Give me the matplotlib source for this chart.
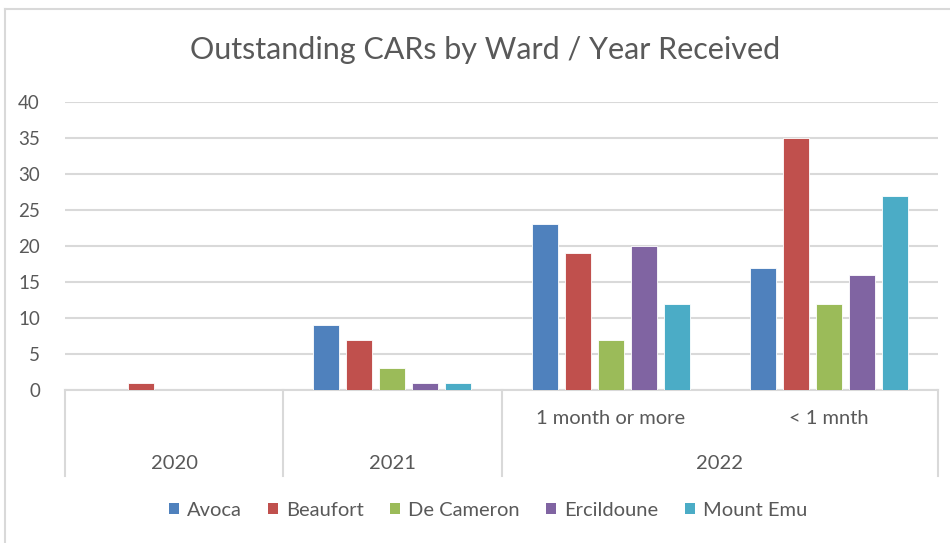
import numpy as np
import matplotlib.pyplot as plt
from matplotlib.patches import Patch

plt.rcParams['font.family'] = ['Lato', 'DejaVu Sans']

# data
wards = ['Avoca', 'Beaufort', 'De Cameron', 'Ercildoune', 'Mount Emu']
inner_labels = ['', '', '1 month or more', '< 1 mnth']
outer_labels = ['2020', '2021', '2022']
outer_span = [(0, 0), (1, 1), (2, 3)]   # categories covered by each year
avoca = [0, 9, 23, 17]
beaufort = [1, 7, 19, 35]
de_cameron = [0, 3, 7, 12]
ercildoune = [0, 1, 20, 16]
mount_emu = [0, 1, 12, 27]
colors = ['#4F81BD', '#C0504D', '#9BBB59', '#8064A2', '#4BACC6']

series = [avoca, beaufort, de_cameron, ercildoune, mount_emu]
x = np.arange(len(inner_labels))
pitch = 0.151
width = 0.119

fig = plt.figure(figsize=(9.5, 5.43), dpi=100)
ax = fig.add_axes([65/950, 153/543, 873/950, 288/543])

for i, (vals, c) in enumerate(zip(series, colors)):
    off = (i - 2) * pitch
    ax.bar(x + off, vals, width, color=c, edgecolor='white', linewidth=0.6, zorder=3)

ax.set_xlim(-0.5, len(x) - 0.5)
ax.set_ylim(0, 40)
ax.set_yticks(range(0, 41, 5))
ax.yaxis.grid(True, color='#d9d9d9', linewidth=1.5, zorder=0)
ax.tick_params(axis='y', length=0, pad=18, labelsize=13.5, labelcolor='#595959')
ax.set_xticks([])
for s in ['top', 'right', 'left']:
    ax.spines[s].set_visible(False)
ax.spines['bottom'].set_color('#d9d9d9')
ax.spines['bottom'].set_linewidth(1.5)

trans = ax.get_xaxis_transform()
# multi-level category axis
for xi, lab in zip(x, inner_labels):
    if lab:
        ax.text(xi, -0.1, lab, transform=trans, ha='center', va='center',
                fontsize=14.5, color='#595959')
bounds = [-0.5]
for lab, (a, b) in zip(outer_labels, outer_span):
    ax.text((a + b) / 2, -0.255, lab, transform=trans, ha='center', va='center',
            fontsize=14.5, color='#595959')
    bounds.append(b + 0.5)
for bx in bounds:
    ax.plot([bx, bx], [0, -0.298], transform=trans, color='#d9d9d9',
            linewidth=1.5, clip_on=False)

fig.text(485/950, 1 - 50/543, 'Outstanding CARs by Ward / Year Received',
         ha='center', va='center', fontsize=22, color='#595959')

handles = [Patch(facecolor=c, label=w) for w, c in zip(wards, colors)]
fig.legend(handles=handles, loc='center', bbox_to_anchor=(488/950, 1 - 510/543),
           ncol=5, frameon=False, fontsize=14.5, labelcolor='#595959',
           handlelength=0.5, handleheight=0.5, handletextpad=0.4, columnspacing=1.3)

# chart border
fig.add_artist(plt.Line2D([5/950, 5/950], [0, 1 - 9/543], color='#d9d9d9', linewidth=1.5))
fig.add_artist(plt.Line2D([5/950, 1], [1 - 9/543, 1 - 9/543], color='#d9d9d9', linewidth=1.5))

fig.savefig('out.png', dpi=100)
